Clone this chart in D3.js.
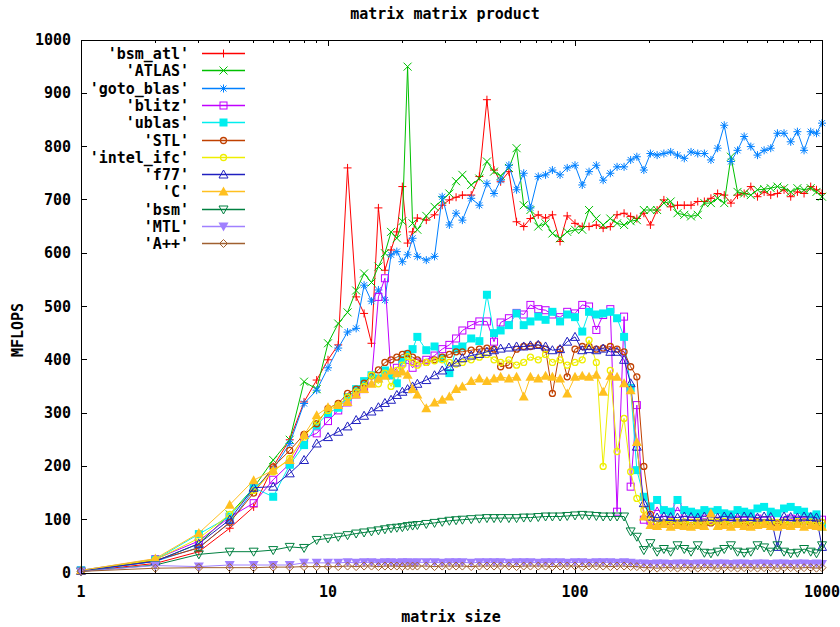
<!DOCTYPE html>
<html>
<head>
<meta charset="utf-8">
<script src="https://cdn.jsdelivr.net/npm/d3@7"></script>
<style>
  body { margin: 0; background: #fff; }
  text { font-family: "DejaVu Sans Mono", "Liberation Mono", monospace; font-weight: bold; font-size: 15px; fill: #000; }
</style>
</head>
<body>
<svg id="chart" width="840" height="627"></svg>
<script>
// matrix sizes (x) shared by all series
var sizes = [1,2,3,4,5,6,7,8,9,10,11,12,13,14,15,16,17,18,19,20,21,22,23,
  25,27,29,31,33,35,38,41,44,47,50,54,58,62,66,71,76,81,87,93,
  100,107,114,122,130,139,148,158,168,178,190,202,215,229,244,260,277,295,314,334,
  355,378,402,428,455,484,515,548,583,620,660,702,747,795,846,900,950,1000]

var bsmAtl = [3,18,40,84,124,200,250,321,362,400,
  428,760,518,487,431,685,568,606,640,725, 619,640,666,
  662,672,690,700,705,709,709,744,888,756, 734,753,659,650,665,672,666,672,622,670,
  656,650,650,653,647,650,672,675,669,665, 675,653,681,700,687,690,690,690,697,697,
  703,712,709,694,709,712,725,706,715,709, 712,719,706,715,712,725,719,712]
var atlas = [4,22,55,110,160,212,250,359,345,431,
  468,489,530,562,545,575,600,640,628,660, 950,656,644,
  670,687,700,712,735,747,728,740,772,753, 745,760,797,690,681,650,656,637,628,640,
  644,644,681,665,653,665,656,653,660,662, 681,681,681,694,697,675,672,669,672,694,
  694,703,694,781,715,712,709,719,720,722, 725,722,715,722,719,722,715,706]
var gotoBlas = [3,22,48,94,156,195,243,318,343,385,
  422,452,459,540,510,531,512,597,603,584, 597,628,594,
  587,594,706,653,675,662,703,690,731,712, 737,765,719,750,685,744,747,756,747,760,
  765,728,753,765,737,750,762,762,775,781, 756,787,784,787,790,784,778,790,787,787,
  775,797,840,772,793,819,800,784,793,797, 825,825,809,828,793,828,825,844]
var blitz = [5,26,60,105,131,175,205,253,262,285,
  305,320,335,345,360,518,553,371,385,395, 400,385,395,
  400,408,420,428,440,455,465,472,472,434, 470,478,488,485,503,495,493,485,480,490,
  487,503,500,456,484,495,115,481,162,315, 100,98,124,100,98,124,100,98,100,102,
  100,98,100,102,100,98,100,102,98,100, 100,98,102,100,98,100,102,100]
var ublas = [5,25,73,106,160,143,203,240,277,300,
  310,330,345,360,371,365,380,371,356,400, 410,420,443,
  418,425,403,375,420,425,440,435,522,450, 455,465,487,465,472,481,475,490,472,485,
  480,453,490,485,487,490,478,443,347,193, 143,125,137,118,115,137,118,115,112,118,
  115,118,112,110,118,115,112,121,124,115, 112,121,124,118,115,106,110,87]
var stl = [4,24,47,95,150,199,230,260,280,309,
  318,337,345,356,370,381,395,400,405,410, 412,405,400,
  395,400,405,410,415,415,418,420,422,420, 387,390,420,425,425,428,420,337,420,368,
  420,425,425,420,422,425,420,415,387,368, 200,110,95,92,96,94,92,95,94,92,
  94,96,92,94,95,92,94,96,93,94, 92,95,94,93,96,94,92,95]
var intelIfc = [4,25,65,110,155,190,215,255,285,305,
  315,330,340,350,371,355,375,350,380,390, 406,395,390,
  395,398,400,395,392,395,400,405,410,400, 395,400,390,395,405,400,410,395,400,390,
  395,400,437,395,200,380,228,290,190,140, 118,100,96,95,97,95,96,94,96,95,
  96,95,97,94,96,95,96,94,95,96, 95,96,94,97,95,96,94,95]
var f77 = [4,22,55,100,160,162,187,212,243,255,
  265,275,287,295,303,311,319,325,334,340, 345,350,355,
  362,371,380,387,395,403,408,411,415,418, 421,423,425,425,427,428,425,418,420,434,
  443,418,420,418,421,415,415,400,356,237, 131,106,104,106,105,104,106,105,104,106,
  105,104,106,105,104,106,105,104,106,105, 49,106,105,104,106,105,104,49]
var cLang = [5,27,75,128,174,193,212,259,296,311,
  315,321,335,345,355,365,370,380,375,378, 372,345,335,
  309,320,325,331,345,350,360,365,360,365, 368,365,368,331,368,365,370,368,365,337,
  368,370,368,372,340,370,368,356,343,246, 106,90,88,92,87,90,88,87,90,88,
  112,88,90,87,92,88,87,90,92,88, 87,90,88,92,87,90,88,87]
var bsm = [3,15,35,40,40,43,49,47,62,65,
  68,71,74,76,78,80,82,84,85,86, 88,89,90,
  92,94,96,98,99,100,101,102,103,103, 103,103,103,104,104,105,106,106,106,107,
  108,109,108,107,106,106,106,106,78,68, 43,56,40,45,40,52,45,40,52,38,
  37,40,45,52,40,38,40,52,48,40, 52,40,37,38,45,40,37,52]
var mtl = [3,14,12,15,15,15,15,19,19,19,
  19,20,19,20,20,19,20,20,19,20, 20,19,20,
  20,20,19,20,20,20,19,20,20,20, 20,19,20,20,20,19,20,20,20,19,
  20,20,19,20,20,20,19,20,19,18, 18,17,18,18,17,18,18,17,18,18,
  17,18,18,17,18,18,17,18,18,17, 18,18,17,18,18,17,18,17]
var aPlusPlus = [3,9,10,10,10,11,11,12,12,12,
  12,13,12,13,13,12,13,13,13,12, 13,13,13,
  13,12,13,13,13,13,12,13,13,13, 13,13,12,13,13,13,13,12,13,13,
  13,12,13,13,13,12,13,13,12,12, 10,10,9,10,10,9,10,10,9,10,
  10,9,10,10,9,10,10,9,10,10, 9,10,10,9,10,10,9,10]

var seriesNames = ["'bsm_atl'", "'ATLAS'", "'goto_blas'", "'blitz'", "'ublas'", "'STL'",
  "'intel_ifc'", "'f77'", "'C'", "'bsm'", "'MTL'", "'A++'"]
var seriesValues = [bsmAtl, atlas, gotoBlas, blitz, ublas, stl, intelIfc, f77, cLang, bsm, mtl, aPlusPlus]
var seriesColors = ['#ff0000', '#00c000', '#0080ff', '#c000ff', '#00eeee', '#c04000',
  '#eeee00', '#2020c0', '#ffc020', '#008040', '#a080ff', '#a06030']
var seriesMarks = ['plus', 'cross', 'star', 'box', 'fbox', 'circle',
  'circle', 'tri', 'ftri', 'itri', 'fitri', 'diamond']
var yTicks = [0, 100, 200, 300, 400, 500, 600, 700, 800, 900, 1000]
var xTicks = [1, 10, 100, 1000]

var svg = d3.select('#chart')
var plotL = 81, plotR = 822, plotT = 40, plotB = 573

var x = d3.scaleLog().domain([1, 1000]).range([plotL, plotR])
var y = d3.scaleLinear().domain([0, 1000]).range([plotB, plotT])

// draw a gnuplot style point symbol
function addMark (g, type, color) {
  switch (type) {
    case 'plus':
      return g.append('path').attr('d', 'M-4,0H4M0,-4V4').attr('stroke', color).attr('fill', 'none')
    case 'cross':
      return g.append('path').attr('d', 'M-4,-4L4,4M-4,4L4,-4').attr('stroke', color).attr('fill', 'none')
    case 'star':
      return g.append('path').attr('d', 'M-4,0H4M0,-4V4M-3,-3L3,3M-3,3L3,-3').attr('stroke', color).attr('fill', 'none')
    case 'box':
      return g.append('rect').attr('x', -3.5).attr('y', -3.5).attr('width', 7).attr('height', 7)
        .attr('stroke', color).attr('fill', 'none')
    case 'fbox':
      return g.append('rect').attr('x', -4).attr('y', -4).attr('width', 8).attr('height', 8)
        .attr('fill', color)
    case 'circle':
      return g.append('circle').attr('r', 3).attr('stroke', color).attr('stroke-width', 1.3).attr('fill', 'none')
    case 'tri':
      return g.append('path').attr('d', 'M0,-4.5L4.5,3.5H-4.5Z').attr('stroke', color).attr('fill', 'none')
    case 'ftri':
      return g.append('path').attr('d', 'M0,-5L5,4H-5Z').attr('fill', color)
    case 'itri':
      return g.append('path').attr('d', 'M0,4.5L4.5,-3.5H-4.5Z').attr('stroke', color).attr('fill', 'none')
    case 'fitri':
      return g.append('path').attr('d', 'M0,5L5,-4H-5Z').attr('fill', color)
    case 'diamond':
      return g.append('path').attr('d', 'M0,-4L4,0L0,4L-4,0Z').attr('stroke', color).attr('fill', 'none')
  }
}

// title and axis labels
svg.append('text').attr('x', 445).attr('y', 19).attr('text-anchor', 'middle').text('matrix matrix product')
svg.append('text').attr('x', 451).attr('y', 622).attr('text-anchor', 'middle').text('matrix size')
svg.append('text').attr('transform', 'translate(23,330) rotate(-90)').attr('text-anchor', 'middle').text('MFLOPS')

// y ticks (mirrored on right)
var axes = svg.append('g').attr('stroke', '#000').attr('shape-rendering', 'crispEdges')
yTicks.forEach(function (t) {
  axes.append('line').attr('x1', plotL).attr('x2', plotL + 6).attr('y1', y(t)).attr('y2', y(t))
  axes.append('line').attr('x1', plotR).attr('x2', plotR - 6).attr('y1', y(t)).attr('y2', y(t))
  svg.append('text').attr('x', 71).attr('y', y(t) + 5).attr('text-anchor', 'end').text(t)
})

// x ticks, log minors
xTicks.forEach(function (t) {
  axes.append('line').attr('x1', x(t)).attr('x2', x(t)).attr('y1', plotB).attr('y2', plotB - 6)
  axes.append('line').attr('x1', x(t)).attr('x2', x(t)).attr('y1', plotT).attr('y2', plotT + 6)
  svg.append('text').attr('x', x(t)).attr('y', 597).attr('text-anchor', 'middle').text(t)
  if (t < 1000) {
    for (var k = 2; k < 10; k++) {
      axes.append('line').attr('x1', x(t * k)).attr('x2', x(t * k)).attr('y1', plotB).attr('y2', plotB - 3)
      axes.append('line').attr('x1', x(t * k)).attr('x2', x(t * k)).attr('y1', plotT).attr('y2', plotT + 3)
    }
  }
})

// series
var line = d3.line().x(function (d) { return x(d[0]) }).y(function (d) { return y(d[1]) })
seriesValues.forEach(function (vals, i) {
  var pts = sizes.map(function (s, j) { return [s, vals[j]] })
  var g = svg.append('g')
  g.append('path').datum(pts).attr('d', line).attr('fill', 'none')
    .attr('stroke', seriesColors[i]).attr('stroke-width', 1)
  pts.forEach(function (p) {
    var m = g.append('g').attr('transform', 'translate(' + x(p[0]) + ',' + y(p[1]) + ')')
    addMark(m, seriesMarks[i], seriesColors[i])
  })
})

// border
svg.append('rect').attr('x', plotL).attr('y', plotT).attr('width', plotR - plotL).attr('height', plotB - plotT)
  .attr('fill', 'none').attr('stroke', '#000').attr('shape-rendering', 'crispEdges')

// legend
seriesNames.forEach(function (name, i) {
  var ly = Math.round(53 + i * 17.3) + 0.5
  svg.append('text').attr('x', 189).attr('y', ly + 5).attr('text-anchor', 'end').text(name)
  svg.append('line').attr('x1', 202).attr('x2', 245).attr('y1', ly).attr('y2', ly)
    .attr('stroke', seriesColors[i]).attr('stroke-width', 1.5)
  var m = svg.append('g').attr('transform', 'translate(223.5,' + ly + ')')
  addMark(m, seriesMarks[i], seriesColors[i])
})
</script>
</body>
</html>
